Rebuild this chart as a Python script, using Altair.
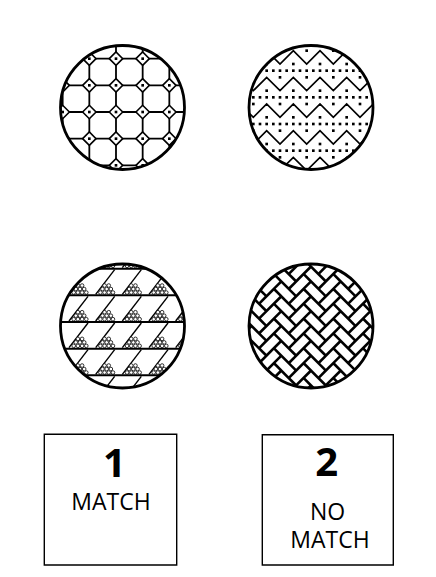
import altair as alt
import numpy as np
import pandas as pd

# four patterned discs: centre (px) and pattern
disc_x = [122.5, 311.0, 122.5, 311.0]
disc_y = [107.5, 107.5, 326.0, 326.0]
disc_pattern = ['lattice', 'zigzag', 'hatch', 'weave']
disc_r = 62

# answer boxes
box_x = [44.3, 262.3]
box_x2 = [176.7, 393.3]
box_y = [434.3, 434.8]
box_y2 = [565.0, 565.0]
box_number = ['1', '2']
number_x = [114.5, 326.7]
number_base = [476.6, 475.9]
label_text = ['MATCH', 'NO', 'MATCH']
label_x = [111.0, 327.5, 330.0]
label_base = [510.0, 520.0, 548.3]

rep = 80 / 3  # pattern repeat in px
half = rep / 2
brick = 10.5  # herringbone cell
gap = 2.6


def tile(anchor, lo, hi, step):
    k = np.arange(np.ceil((lo - anchor) / step), np.floor((hi - anchor) / step) + 1)
    return anchor + k * step


def inside(x, y, cx, cy, pad=10):
    return np.hypot(x - cx, y - cy) <= disc_r + pad


segs, zig, dots, diamonds, beads, weave = [], [], [], [], [], []

# lattice: octagon grid with dotted diamonds at the corners
cx, cy = disc_x[0], disc_y[0]
lx, hx, ly, hy = cx - disc_r - 12, cx + disc_r + 12, cy - disc_r - 12, cy + disc_r + 12
gxs = tile(89.33, lx, hx, rep)
gys = tile(58.67, ly, hy, rep)
for gx in gxs:
    segs.append((gx, ly, gx, hy, 1.8))
for gy in gys:
    segs.append((lx, gy, hx, gy, 1.8))
for gx in gxs:
    for gy in gys:
        if inside(gx, gy, cx, cy):
            diamonds.append((gx, gy))
            dots.append((gx, gy, 7))

# zigzag lines with rows of dots
cx, cy = disc_x[1], disc_y[1]
lx, hx = cx - disc_r - 14, cx + disc_r + 14
zx = tile(280, lx, hx, half)
for n, y0 in enumerate(tile(84, cy - disc_r - half, cy + disc_r + half, rep)):
    for x in zx:
        k = int(round((x - 280) / half))
        zig.append((n, x, y0 + rep / 4 if k % 2 == 0 else y0 - rep / 4))
    pts = [(x, y0 + rep / 2) for x in tile(280, lx, hx, rep / 4)]
    pts += [(x, y0 - rep / 2) for x in tile(280, lx, hx, rep / 4)] if n == 0 else []
    pts += [(x, y0 - rep / 4) for x in tile(280, lx, hx, rep)]
    pts += [(x, y0 + rep / 4) for x in tile(280 + half, lx, hx, rep)]
    dots += [(x, y, 7) for x, y in pts if inside(x, y, cx, cy, 4)]

# bands of diagonal hatching with little bead piles
cx, cy = disc_x[2], disc_y[2]
lx, hx = cx - disc_r - 14, cx + disc_r + 14
for yl in tile(295.33, cy - disc_r - 12, cy + disc_r + rep, rep):
    segs.append((lx, yl, hx, yl, 2.0))
    for px in tile(80, lx - 10, hx + 10, rep):
        segs.append((px - 11, yl - 1, px + 8, yl - rep + 1, 1.4))
        for row, offs in enumerate([[-6.3, -2.1, 2.1, 6.3], [-4.2, 0, 4.2], [-2.1, 2.1]]):
            by = yl - 2.8 - 3.5 * row
            for o in offs:
                if inside(px + o, by, cx, cy, 4):
                    beads.append((px + o, by))

# herringbone weave: white strips on black, turned 45 degrees
cx, cy = disc_x[3], disc_y[3]
c45 = np.cos(np.pi / 4)
for n in range(-14, 15):
    for m in range(-8, 9):
        ox, oy = n + 2 * m, n - 2 * m
        for bx, by, ang in [(ox + 1, oy + 0.5, 0), (ox + 0.5, oy + 2, 90)]:
            u, v = bx * brick, by * brick
            x, y = cx + (u - v) * c45, cy + (u + v) * c45
            if inside(x, y, cx, cy, 14):
                weave.append((x, y, ang + 45))

df_discs = pd.DataFrame({'x': disc_x, 'y': disc_y, 'pattern': disc_pattern})
df_segs = pd.DataFrame(segs, columns=['x', 'y', 'x2', 'y2', 'w'])
df_zig = pd.DataFrame(zig, columns=['row', 'x', 'y'])
df_dots = pd.DataFrame(dots, columns=['x', 'y', 's'])
df_diam = pd.DataFrame(diamonds, columns=['x', 'y'])
df_beads = pd.DataFrame(beads, columns=['x', 'y'])
df_weave = pd.DataFrame(weave, columns=['x', 'y', 'ang'])
df_boxes = pd.DataFrame({'x': box_x, 'x2': box_x2, 'y': box_y, 'y2': box_y2})
df_nums = pd.DataFrame({'x': number_x, 'y': number_base, 'text': box_number})
df_labels = pd.DataFrame({'x': label_x, 'y': label_base, 'text': label_text})

xs = alt.Scale(domain=[8, 428], nice=False, zero=False)
ys = alt.Scale(domain=[8, 568], nice=False, zero=False, reverse=True)
X = alt.X('x:Q', scale=xs, axis=None)
Y = alt.Y('y:Q', scale=ys, axis=None)

weave_bg = alt.Chart(df_discs[df_discs.pattern == 'weave']).mark_point(
    shape='circle', filled=True, color='black', size=(2 * disc_r) ** 2, opacity=1
).encode(X, Y)

lines = alt.Chart(df_segs).mark_rule(color='black').encode(
    X, Y, x2='x2:Q', y2='y2:Q', strokeWidth=alt.StrokeWidth('w:Q', scale=None)
)

zigzag = alt.Chart(df_zig).mark_line(color='black', strokeWidth=1.7).encode(
    X, Y, detail='row:N', order='x:Q'
)

diam = alt.Chart(df_diam).mark_point(
    shape='diamond', filled=True, color='white', stroke='black', strokeWidth=1.6, size=180, opacity=1
).encode(X, Y)

bead = alt.Chart(df_beads).mark_point(
    shape='circle', filled=True, color='white', stroke='black', strokeWidth=0.8, size=13, opacity=1
).encode(X, Y)

dot = alt.Chart(df_dots).mark_point(shape='square', filled=True, color='black', opacity=1).encode(
    X, Y, size=alt.Size('s:Q', scale=None)
)

strip_len = 2 * brick - gap
strip_half = (brick - gap) / strip_len
strips = alt.Chart(df_weave).mark_point(
    shape=f'M-1,-{strip_half:.3f}L1,-{strip_half:.3f}L1,{strip_half:.3f}L-1,{strip_half:.3f}Z',
    filled=True, color='white', size=strip_len ** 2, opacity=1
).encode(X, Y, angle=alt.Angle('ang:Q', scale=None))

mask = alt.Chart(df_discs).mark_point(
    shape='circle', filled=False, color='white', strokeWidth=56, size=180 ** 2, opacity=1
).encode(X, Y)

outline = alt.Chart(df_discs).mark_point(
    shape='circle', filled=False, color='black', strokeWidth=2.8, size=(2 * disc_r) ** 2, opacity=1
).encode(X, Y)

boxes = alt.Chart(df_boxes).mark_rect(fill='white', stroke='black', strokeWidth=1.4).encode(
    X, Y, x2='x2:Q', y2='y2:Q'
)

nums = alt.Chart(df_nums).mark_text(
    font='Open Sans', fontWeight='bold', fontSize=40, align='center', baseline='alphabetic', color='black'
).encode(X, Y, text='text:N')

labels = alt.Chart(df_labels).mark_text(
    font='Open Sans', fontSize=23, align='center', baseline='alphabetic', color='black'
).encode(X, Y, text='text:N')

chart = alt.layer(
    weave_bg, lines, zigzag, diam, bead, dot, strips, mask, outline, boxes, nums, labels
).properties(
    width=420, height=560, padding=0, autosize='none', background='white'
).configure_view(stroke=None)

chart.save("out.html", embed_options={"renderer": "svg", "actions": False})
